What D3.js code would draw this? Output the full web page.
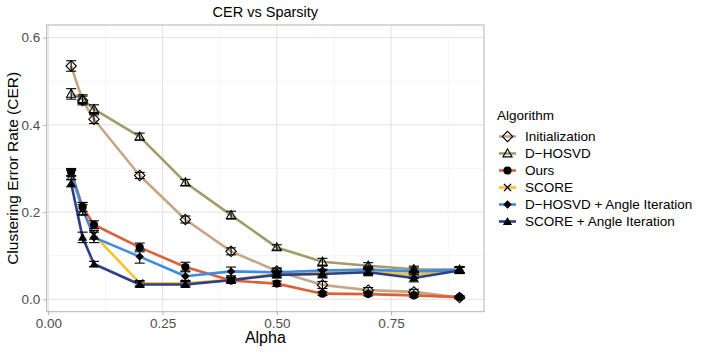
<!DOCTYPE html>
<html>
<head>
<meta charset="utf-8">
<script src="https://cdn.jsdelivr.net/npm/d3@7"></script>
<style>
  body { margin: 0; background: #fff; }
  text { font-family: "Liberation Sans", Arial, sans-serif; }
</style>
</head>
<body>
<svg id="chart" width="706" height="353"></svg>
<script>
const alpha = [0.05, 0.075, 0.1, 0.2, 0.3, 0.4, 0.5, 0.6, 0.7, 0.8, 0.9];

const algorithms = ["Initialization", "D\u2212HOSVD", "Ours", "SCORE",
  "D\u2212HOSVD + Angle Iteration", "SCORE + Angle Iteration"];
const colors = ["#c6a685", "#a09b68", "#dc6138", "#f5c32c", "#3c8be4", "#2c3e8c"];
const shapes = ["diamondOpen", "triangleOpen", "circle", "cross", "diamondSmall", "triangle"];

const cerInit = [0.535, 0.456, 0.413, 0.284, 0.183, 0.110, 0.065, 0.033, 0.021, 0.017, 0.004];
const cerDhosvd = [0.471, 0.459, 0.436, 0.373, 0.268, 0.193, 0.119, 0.086, 0.077, 0.069, 0.068];
const cerOurs = [0.292, 0.212, 0.171, 0.119, 0.074, 0.043, 0.036, 0.013, 0.012, 0.009, 0.005];
const cerScore = [0.285, 0.205, 0.148, 0.037, 0.037, 0.045, 0.058, 0.060, 0.065, 0.056, 0.068];
const cerDhosvdAI = [0.290, 0.208, 0.142, 0.098, 0.053, 0.064, 0.062, 0.066, 0.068, 0.064, 0.067];
const cerScoreAI = [0.266, 0.142, 0.081, 0.034, 0.034, 0.044, 0.056, 0.058, 0.062, 0.049, 0.066];

const errInit = [0.012, 0.010, 0.010, 0.007, 0.008, 0.008, 0.007, 0.008, 0.006, 0.006, 0.003];
const errDhosvd = [0.012, 0.010, 0.010, 0.008, 0.007, 0.009, 0.006, 0.008, 0.007, 0.007, 0.006];
const errOurs = [0.008, 0.010, 0.009, 0.010, 0.011, 0.006, 0.006, 0.004, 0.004, 0.004, 0.003];
const errScore = [0.010, 0.012, 0.010, 0.006, 0.006, 0.006, 0.007, 0.009, 0.008, 0.008, 0.007];
const errDhosvdAI = [0.008, 0.014, 0.012, 0.015, 0.012, 0.010, 0.008, 0.010, 0.008, 0.008, 0.007];
const errScoreAI = [0.008, 0.012, 0.006, 0.006, 0.006, 0.006, 0.007, 0.009, 0.008, 0.009, 0.007];

const xTicks = [0, 0.25, 0.5, 0.75];
const xMinor = [0.125, 0.375, 0.625, 0.875];
const yTicks = [0, 0.2, 0.4, 0.6];
const yMinor = [0.1, 0.3, 0.5];

const cerAll = [cerInit, cerDhosvd, cerOurs, cerScore, cerDhosvdAI, cerScoreAI];
const errAll = [errInit, errDhosvd, errOurs, errScore, errDhosvdAI, errScoreAI];

const series = algorithms.map((name, i) => ({
  name: name,
  color: colors[i],
  shape: shapes[i],
  values: alpha.map((a, j) => ({ x: a, y: cerAll[i][j], e: errAll[i][j] }))
}));

const svg = d3.select("#chart");
const panel = { left: 46.7, right: 484, top: 25, bottom: 311.7 };

const x = d3.scaleLinear().domain([-0.0035, 0.9535]).range([panel.left, panel.right]);
const y = d3.scaleLinear().domain([-0.0284, 0.629]).range([panel.bottom, panel.top]);

// grid
const grid = svg.append("g");
grid.selectAll(".xminor").data(xMinor).join("line")
  .attr("x1", d => x(d)).attr("x2", d => x(d))
  .attr("y1", panel.top).attr("y2", panel.bottom)
  .attr("stroke", "#efefef").attr("stroke-width", 0.7);
grid.selectAll(".yminor").data(yMinor).join("line")
  .attr("y1", d => y(d)).attr("y2", d => y(d))
  .attr("x1", panel.left).attr("x2", panel.right)
  .attr("stroke", "#efefef").attr("stroke-width", 0.7);
grid.selectAll(".xmajor").data(xTicks).join("line")
  .attr("x1", d => x(d)).attr("x2", d => x(d))
  .attr("y1", panel.top).attr("y2", panel.bottom)
  .attr("stroke", "#e2e2e2").attr("stroke-width", 1);
grid.selectAll(".ymajor").data(yTicks).join("line")
  .attr("y1", d => y(d)).attr("y2", d => y(d))
  .attr("x1", panel.left).attr("x2", panel.right)
  .attr("stroke", "#e2e2e2").attr("stroke-width", 1);

// axes
const xAxis = svg.append("g")
  .attr("transform", `translate(0,${panel.bottom})`)
  .call(d3.axisBottom(x).tickValues(xTicks).tickFormat(d3.format(".2f")).tickSize(3.5).tickPadding(3));
const yAxis = svg.append("g")
  .attr("transform", `translate(${panel.left},0)`)
  .call(d3.axisLeft(y).tickValues(yTicks).tickFormat(d3.format(".1f")).tickSize(3.5).tickPadding(3));
[xAxis, yAxis].forEach(g => {
  g.select(".domain").remove();
  g.selectAll(".tick line").attr("stroke", "#b3b3b3");
  g.selectAll(".tick text").attr("fill", "#4d4d4d")
    .style("font-size", "13.5px").style("font-family", "Liberation Sans, Arial, sans-serif");
});

// panel border
svg.append("rect")
  .attr("x", panel.left).attr("y", panel.top)
  .attr("width", panel.right - panel.left).attr("height", panel.bottom - panel.top)
  .attr("fill", "none").attr("stroke", "#b3b3b3").attr("stroke-width", 1);

// symbols
function shapePath(shape) {
  if (shape === "diamondOpen") {
    return "M0,-5.2L5.2,0L0,5.2L-5.2,0Z";
  } else if (shape === "diamondSmall") {
    return "M0,-4.2L4.2,0L0,4.2L-4.2,0Z";
  } else if (shape === "triangleOpen" || shape === "triangle") {
    return "M0,-4.6L4.6,3.4L-4.6,3.4Z";
  } else if (shape === "circle") {
    return d3.symbol(d3.symbolCircle, 52)();
  } else {
    return "M-3.6,-3.6L3.6,3.6M-3.6,3.6L3.6,-3.6";
  }
}
function styleShape(sel, shape) {
  const open = shape === "diamondOpen" || shape === "triangleOpen";
  const cross = shape === "cross";
  sel.attr("d", shapePath(shape))
    .attr("fill", open || cross ? "none" : "#000")
    .attr("stroke", "#000")
    .attr("stroke-width", open ? 1.1 : (cross ? 1.3 : 0));
}

const line = d3.line().x(d => x(d.x)).y(d => y(d.y));

// lines
svg.append("g").selectAll("path").data(series).join("path")
  .attr("d", d => line(d.values))
  .attr("fill", "none")
  .attr("stroke", d => d.color)
  .attr("stroke-width", 2.6)
  .attr("stroke-linejoin", "round");

// points
series.forEach(s => {
  svg.append("g").selectAll("path").data(s.values).join("path")
    .attr("transform", d => `translate(${x(d.x)},${y(d.y)})`)
    .call(styleShape, s.shape);
});

// error bars
const halfW = 0.011;
series.forEach(s => {
  const g = svg.append("g").attr("stroke", "#000").attr("stroke-width", 1.1);
  g.selectAll(".v").data(s.values).join("line")
    .attr("x1", d => x(d.x)).attr("x2", d => x(d.x))
    .attr("y1", d => y(d.y - d.e)).attr("y2", d => y(d.y + d.e));
  g.selectAll(".t").data(s.values).join("line")
    .attr("x1", d => x(d.x - halfW)).attr("x2", d => x(d.x + halfW))
    .attr("y1", d => y(d.y + d.e)).attr("y2", d => y(d.y + d.e));
  g.selectAll(".b").data(s.values).join("line")
    .attr("x1", d => x(d.x - halfW)).attr("x2", d => x(d.x + halfW))
    .attr("y1", d => y(d.y - d.e)).attr("y2", d => y(d.y - d.e));
});

// titles
svg.append("text")
  .attr("x", (panel.left + panel.right) / 2).attr("y", 17)
  .attr("text-anchor", "middle").style("font-size", "14.5px").attr("fill", "#000")
  .text("CER vs Sparsity");
svg.append("text")
  .attr("x", (panel.left + panel.right) / 2).attr("y", 343)
  .attr("text-anchor", "middle").style("font-size", "16px").attr("fill", "#000")
  .text("Alpha");
svg.append("text")
  .attr("transform", `translate(18,${(panel.top + panel.bottom) / 2}) rotate(-90)`)
  .attr("text-anchor", "middle").style("font-size", "15.5px").attr("fill", "#000")
  .text("Clustering Error Rate (CER)");

// legend
const legend = svg.append("g").attr("transform", "translate(497,0)");
legend.append("text").attr("x", 0).attr("y", 120)
  .style("font-size", "13.5px").attr("fill", "#000").text("Algorithm");
const item = legend.selectAll(".item").data(series).join("g")
  .attr("transform", (d, i) => `translate(0,${136.5 + i * 17})`);
item.append("line")
  .attr("x1", 2).attr("x2", 19).attr("y1", 0).attr("y2", 0)
  .attr("stroke", d => d.color).attr("stroke-width", 2.6);
item.append("path")
  .attr("transform", "translate(10.5,0)")
  .each(function (d) { d3.select(this).call(styleShape, d.shape); });
item.append("text").attr("x", 28).attr("y", 4.8)
  .style("font-size", "13.5px").attr("fill", "#000")
  .text(d => d.name);
</script>
</body>
</html>
